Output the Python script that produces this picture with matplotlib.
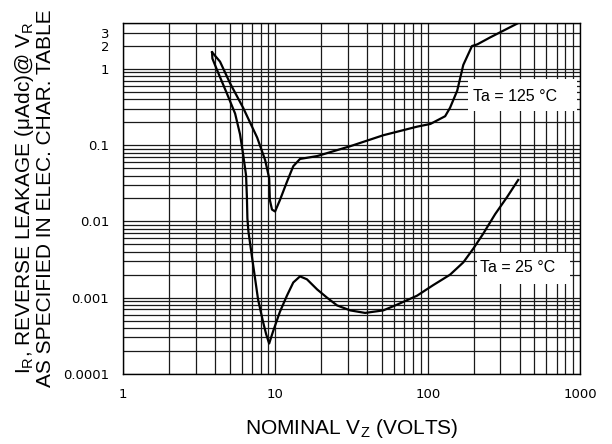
"""
Reverse leakage vs nominal zener voltage, log-log datasheet style chart.
"""

import matplotlib

matplotlib.use("Agg")
import matplotlib.pyplot as plt  # noqa: E402
from matplotlib.patches import Rectangle  # noqa: E402
from matplotlib.ticker import LogLocator, NullFormatter  # noqa: E402

# Ta = 125 C curve (nominal Vz in volts, leakage in uA)
v_125 = [3.84, 4.33, 5.04, 6.14, 7.59, 8.56, 9.1, 9.2, 9.5, 9.95, 10.7, 11.9,
         13.1, 14.5, 18.8, 31, 51, 85, 104, 130, 140, 156, 171, 195, 211, 257, 392]
ir_125 = [1.66, 1.25, 0.65, 0.31, 0.126, 0.064, 0.037, 0.019, 0.0143, 0.0135,
          0.019, 0.033, 0.053, 0.066, 0.072, 0.097, 0.135, 0.175, 0.19, 0.24,
          0.31, 0.52, 1.13, 2.0, 2.1, 2.6, 4.0]

# Ta = 25 C curve
v_25 = [3.84, 3.86, 4.14, 4.82, 5.44, 5.86, 6.14, 6.42, 6.5, 6.55, 6.65, 7.14,
        7.7, 8.3, 8.7, 9.1, 9.65, 10.7, 11.9, 13.1, 14.5, 16.1, 18.8, 21.8,
        25.4, 31, 38.8, 51, 63, 85, 108, 140, 171, 199, 231, 277, 332, 392]
ir_25 = [1.66, 1.37, 0.97, 0.47, 0.26, 0.139, 0.076, 0.040, 0.021, 0.011,
         0.0074, 0.0027, 0.00094, 0.00048, 0.00033, 0.00025, 0.00036, 0.00065,
         0.00106, 0.00158, 0.0019, 0.00174, 0.00128, 0.001, 0.00079, 0.00068,
         0.00063, 0.00068, 0.00081, 0.00106, 0.00145, 0.002, 0.0029, 0.0044,
         0.0069, 0.0125, 0.021, 0.035]

x_ticks = [1, 10, 100, 1000]
x_tick_labels = ["1", "10", "100", "1000"]
y_ticks = [0.0001, 0.001, 0.01, 0.1, 1, 2, 3]
y_tick_labels = ["0.0001", "0.001", "0.01", "0.1", "1", "2", "3"]

LABEL_FONT = "Liberation Sans"

fig = plt.figure(figsize=(6.12, 4.44), dpi=100)
ax = fig.add_axes([0.201, 0.158, 0.747, 0.790])
ax.set_xscale("log")
ax.set_yscale("log")
ax.set_xlim(1, 1000)
ax.set_ylim(0.0001, 4)

ax.xaxis.set_minor_locator(LogLocator(base=10, subs=range(2, 10), numticks=20))
ax.yaxis.set_minor_locator(LogLocator(base=10, subs=range(2, 10), numticks=20))
ax.xaxis.set_minor_formatter(NullFormatter())
ax.yaxis.set_minor_formatter(NullFormatter())
ax.set_xticks(x_ticks, x_tick_labels)
ax.set_yticks(y_ticks, y_tick_labels)
ax.tick_params(which="both", length=0, labelsize=9.5, pad=10, colors="black")

ax.grid(True, which="both", color="#1a1a1a", lw=0.9)
ax.set_axisbelow(True)
for s in ax.spines.values():
    s.set_color("black")
    s.set_linewidth(1.0)

# white label boxes that blank out the grid
for (x0, y0, w, h) in [(0.755, 0.749, 0.238, 0.091), (0.775, 0.256, 0.203, 0.088)]:
    ax.add_patch(Rectangle((x0, y0), w, h, transform=ax.transAxes,
                           facecolor="white", edgecolor="none", zorder=2))

ax.plot(v_125, ir_125, color="black", lw=1.6, zorder=3, clip_on=True)
ax.plot(v_25, ir_25, color="black", lw=1.6, zorder=3, clip_on=True)

ax.text(0.766, 0.790, "Ta = 125 °C", transform=ax.transAxes, ha="left",
        va="center", fontsize=11.5, family=LABEL_FONT, zorder=4)
ax.text(0.781, 0.302, "Ta = 25 °C", transform=ax.transAxes, ha="left",
        va="center", fontsize=11.5, family=LABEL_FONT, zorder=4)

fig.text(352 / 612, 1 - 428 / 444, r"NOMINAL V$\mathregular{_Z}$ (VOLTS)",
         ha="center", va="center", fontsize=15, family=LABEL_FONT)
fig.text(34 / 612, 1 - 198 / 444,
         "I$\\mathregular{_R}$, REVERSE LEAKAGE (μAdc)@ V$\\mathregular{_R}$\n"
         "AS SPECIFIED IN ELEC. CHAR. TABLE",
         rotation=90, ha="center", va="center", multialignment="center",
         fontsize=15, family=LABEL_FONT, linespacing=1.0)

fig.savefig("out.png", dpi=100)
plt.close(fig)
